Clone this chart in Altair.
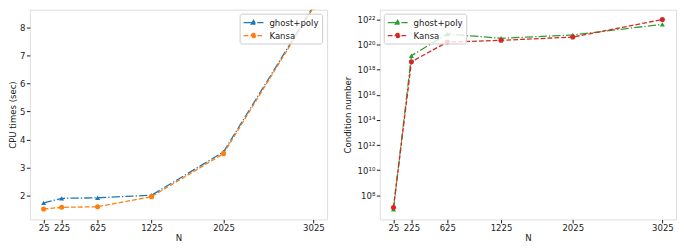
import altair as alt
import pandas as pd

# ---------------- data ----------------
N = [25, 225, 625, 1225, 2025, 3025]
series_names = ["ghost+poly", "Kansa"]

cpu_ghost = [1.75, 1.91, 1.93, 2.02, 3.56, 8.75]
cpu_kansa = [1.53, 1.59, 1.61, 1.97, 3.50, 8.70]

cond_ghost = [7.6e6, 1.3e19, 7.1e20, 3.2e20, 5.9e20, 4.1e21]
cond_kansa = [1.05e7, 4.3e18, 1.6e20, 2.2e20, 4.0e20, 1.0e22]

x_ticks = [25, 225, 625, 1225, 2025, 3025]
cpu_ticks = [2, 3, 4, 5, 6, 7, 8]
cond_ticks = [1e8, 1e10, 1e12, 1e14, 1e16, 1e18, 1e20, 1e22]
cond_tick_labels = ["10⁸", "10¹⁰", "10¹²", "10¹⁴", "10¹⁶", "10¹⁸", "10²⁰", "10²²"]

left_colors = ["#1f77b4", "#ff7f0e"]
right_colors = ["#2ca02c", "#d62728"]
marker_shapes = ["triangle-up", "circle"]

FONT = "DejaVu Sans"
FS = 8.6
TXT = "#222222"

# legend swatches: a 20px line (path x from -1 to 3 at 5px/unit) with the marker at its middle
TRI = "M-1,0L3,0M0.55,0.36L1,-0.46L1.45,0.36Z"
CIR = "M-1,0L3,0M1.42,0A0.42,0.42,0,1,1,0.58,0A0.42,0.42,0,1,1,1.42,0Z"
DASHES = [[8.3, 2.1, 1.3, 2.1], [4.8, 2.1]]

PLOT_H = 211


def long_df(a, b):
    rows = []
    for n, v in zip(N, a):
        rows.append({"N": n, "value": v, "series": series_names[0]})
    for n, v in zip(N, b):
        rows.append({"N": n, "value": v, "series": series_names[1]})
    return pd.DataFrame(rows)


def panel(df, colors, yscale, yaxis, xdomain, width, legend_x, legend_y):
    color_scale = alt.Scale(domain=series_names, range=colors)
    legend = alt.Legend(
        title=None, orient="none", legendX=legend_x, legendY=legend_y,
        fillColor="rgba(255,255,255,0.8)", strokeColor="#cccccc",
        cornerRadius=2, padding=3, symbolSize=100, symbolStrokeWidth=1.3,
        symbolOpacity=1,
        labelFontSize=FS, labelFont=FONT, labelColor=TXT, labelOffset=15,
        rowPadding=2,
    )
    xaxis = alt.Axis(values=x_ticks, title="N", format="d", grid=False, domain=False,
                     tickSize=3.5, tickColor=TXT, labelPadding=1, titlePadding=1,
                     labelFlush=False, labelOverlap=False,
                     labelFontSize=FS, titleFontSize=FS, titleFontWeight="normal",
                     labelColor=TXT, titleColor=TXT, labelFont=FONT, titleFont=FONT)
    x = alt.X("N:Q", scale=alt.Scale(domain=xdomain, nice=False, zero=False), axis=xaxis)
    y = alt.Y("value:Q", scale=yscale, axis=yaxis)
    base = alt.Chart(df)
    line = base.mark_line(clip=True, strokeWidth=1.3).encode(
        x=x, y=y,
        color=alt.Color("series:N", scale=color_scale, legend=None),
        strokeDash=alt.StrokeDash("series:N", scale=alt.Scale(domain=series_names, range=DASHES), legend=None),
    )
    layers = [line]
    for name, shp in zip(series_names, marker_shapes):
        layers.append(
            base.transform_filter(alt.datum.series == name)
            .mark_point(filled=True, clip=True, size=26, opacity=1, shape=shp)
            .encode(x=x, y=y, color=alt.Color("series:N", scale=color_scale, legend=None))
        )
    leg = base.transform_filter("false").mark_point(
        filled=True, size=100, strokeWidth=1.3, opacity=1
    ).encode(
        x=x, y=y,
        fill=alt.Fill("series:N", scale=alt.Scale(domain=series_names, range=colors), legend=legend),
        stroke=alt.Stroke("series:N", scale=alt.Scale(domain=series_names, range=colors), legend=legend),
        shape=alt.Shape("series:N", scale=alt.Scale(domain=series_names, range=[TRI, CIR]), legend=legend),
        strokeDash=alt.StrokeDash("series:N", scale=alt.Scale(domain=series_names, range=DASHES), legend=legend),
    )
    layers.append(leg)
    return alt.layer(*layers).resolve_scale(
        fill="independent", stroke="independent", shape="independent", strokeDash="independent"
    ).properties(width=width, height=PLOT_H)


common_y = dict(grid=False, domain=False, tickSize=3.5, tickColor=TXT,
                labelFontSize=FS, titleFontSize=FS, titleFontWeight="normal",
                labelColor=TXT, titleColor=TXT, labelFont=FONT, titleFont=FONT)

left = panel(
    long_df(cpu_ghost, cpu_kansa), left_colors,
    alt.Scale(domain=[1.159, 8.622], nice=False, zero=False),
    alt.Axis(values=cpu_ticks, title="CPU times (sec)", labelPadding=1.5, titlePadding=2, **common_y),
    [-128, 3177], 299, 211, 4,
)

label_expr = "[" + ",".join(f"'{s}'" for s in cond_tick_labels) + "][round((log(datum.value)/LN10 - 8)/2)]"
right = panel(
    long_df(cond_ghost, cond_kansa), right_colors,
    alt.Scale(type="log", domain=[10 ** 6.072, 10 ** 22.784], nice=False),
    alt.Axis(values=cond_ticks, title="Condition number", labelExpr=label_expr,
             labelPadding=1.5, titlePadding=5, **common_y),
    [-128, 3177], 298, 4, 4,
)

chart = alt.hconcat(left, right, spacing=14).resolve_scale(
    color="independent", fill="independent", stroke="independent",
    strokeDash="independent", shape="independent",
    x="independent", y="independent",
).properties(padding=0).configure_view(stroke=TXT, strokeWidth=1).configure(font=FONT)

chart.save("out.html", embed_options={"renderer": "svg", "actions": False})
